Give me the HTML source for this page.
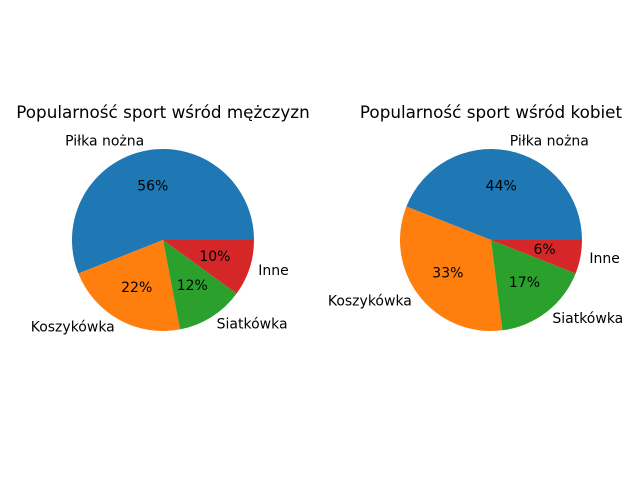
<!DOCTYPE html>
<html><head><meta charset="utf-8"><style>
body{margin:0;background:#fff;}
svg text{font-family:"DejaVu Sans","Liberation Sans",sans-serif;}
</style></head><body>
<svg id="chart" width="640" height="480" viewBox="0 0 640 480">
<rect width="640" height="480" fill="#fff"/>
<text x="163" y="118" font-size="16.8" text-anchor="middle">Popularność sport wśród mężczyzn</text>
<text x="491" y="118" font-size="16.8" text-anchor="middle">Popularność sport wśród kobiet</text>
</svg>
<script>
const categories=["Piłka nożna","Koszykówka","Siatkówka","Inne"];
const menValues=[56,22,12,10];
const womenValues=[44,33,17,6];
const colors=["#1f77b4","#ff7f0e","#2ca02c","#d62728"];
const svg=document.getElementById('chart');
const NS="http://www.w3.org/2000/svg";
function drawPie(vals,cx,cy,r,prefix){
  const total=vals.reduce((a,b)=>a+b,0);
  let a0=0;
  vals.forEach((v,i)=>{
    const a1=a0+v/total*2*Math.PI;
    const x0=cx+r*Math.cos(a0),y0=cy-r*Math.sin(a0);
    const x1=cx+r*Math.cos(a1),y1=cy-r*Math.sin(a1);
    const large=(a1-a0)>Math.PI?1:0;
    const p=document.createElementNS(NS,'path');
    p.setAttribute('d',`M${cx},${cy}L${x0},${y0}A${r},${r} 0 ${large} 0 ${x1},${y1}Z`);
    p.setAttribute('fill',colors[i]);
    
    
    svg.appendChild(p);
    const m=(a0+a1)/2;
    const lx=cx+1.1*r*Math.cos(m),ly=cy-1.1*r*Math.sin(m);
    const t=document.createElementNS(NS,'text');
    t.setAttribute('x',lx);t.setAttribute('y',ly+4);
    t.setAttribute('font-size','14');
    t.setAttribute('text-anchor',Math.cos(m)>0?'start':'end');
    t.textContent=categories[i];
    
    
    svg.appendChild(t);
    const px=cx+0.6*r*Math.cos(m),py=cy-0.6*r*Math.sin(m);
    const q=document.createElementNS(NS,'text');
    q.setAttribute('x',px);q.setAttribute('y',py+4);
    q.setAttribute('font-size','14');
    q.setAttribute('text-anchor','middle');
    q.textContent=Math.round(v/total*100)+'%';
    
    
    svg.appendChild(q);
    a0=a1;
  });
}
drawPie(menValues,163,240,91,'men');
drawPie(womenValues,491,240,91,'women');
</script>
</body></html>
